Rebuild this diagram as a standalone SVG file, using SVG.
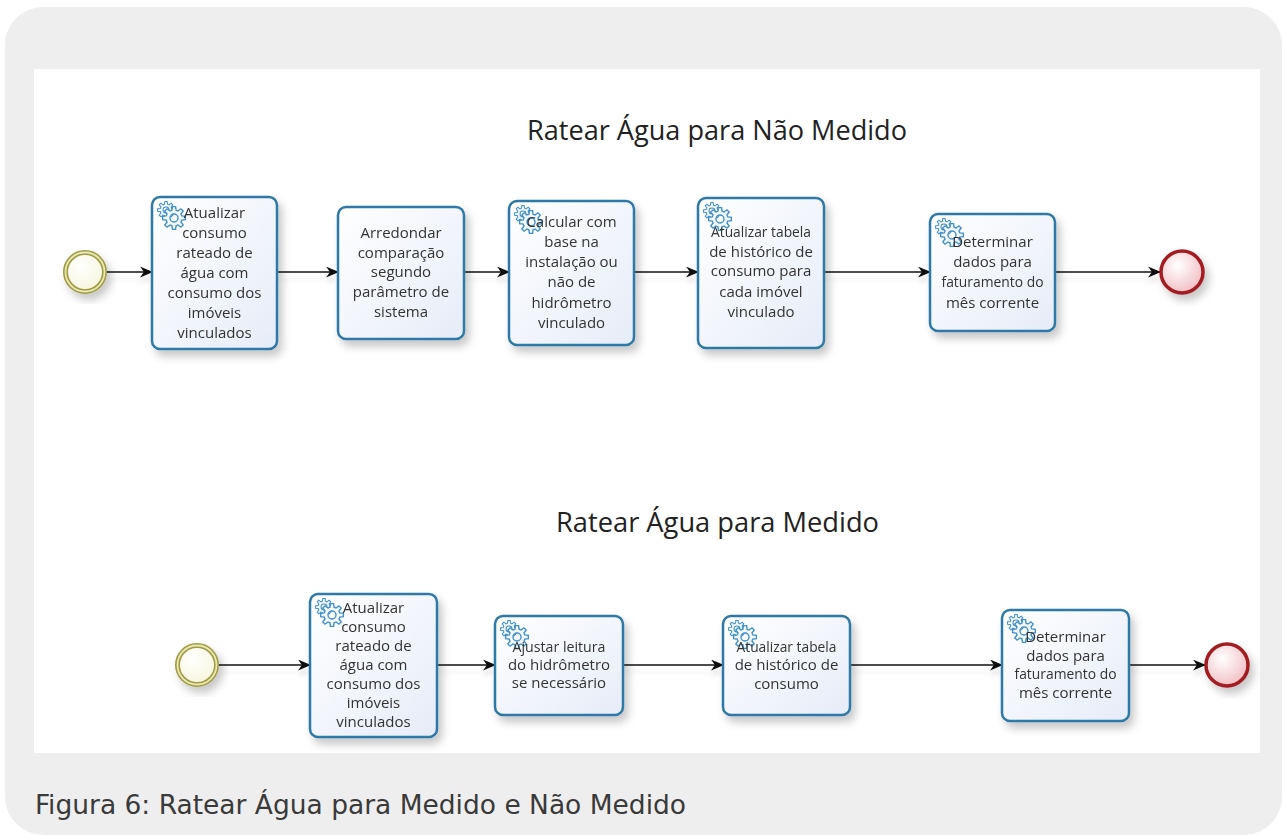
<svg xmlns="http://www.w3.org/2000/svg" xmlns:xlink="http://www.w3.org/1999/xlink" width="1282" height="835" viewBox="0 0 1282 835">
<style>
.task rect.box{fill:url(#taskGrad);stroke:#2f79a6;stroke-width:2.5}
.lbl{font-family:"Open Sans","DejaVu Sans",sans-serif;font-size:15px;fill:#333;text-anchor:middle}
.title{font-family:"Open Sans","DejaVu Sans",sans-serif;font-size:27px;fill:#222}
.gear{fill:#f2f7fd;stroke:#3f8fc8;stroke-width:1.2}
.conn line{stroke:#111;stroke-width:1.6;marker-end:url(#arrow)}
.cap{font-family:"DejaVu Sans","Liberation Sans",sans-serif;font-stretch:condensed;font-size:26px;fill:#3a3a3a}
</style>
<defs>
<linearGradient id="taskGrad" x1="0" y1="0" x2="1" y2="1">
<stop offset="0" stop-color="#ffffff"/>
<stop offset="1" stop-color="#e6ecf8"/>
</linearGradient>
<radialGradient id="endGrad" cx="0.4" cy="0.35" r="0.7">
<stop offset="0" stop-color="#ffffff"/>
<stop offset="1" stop-color="#f0bcc1"/>
</radialGradient>
<radialGradient id="startGrad" cx="0.4" cy="0.35" r="0.7">
<stop offset="0" stop-color="#ffffff"/>
<stop offset="1" stop-color="#f6f5dc"/>
</radialGradient>
<filter id="shadow" x="-20%" y="-20%" width="150%" height="150%">
<feDropShadow dx="4" dy="6" stdDeviation="4" flood-color="#000" flood-opacity="0.22"/>
</filter>
<filter id="lshadow" x="-5%" y="-100%" width="110%" height="400%">
<feDropShadow dx="0" dy="7" stdDeviation="2" flood-color="#000" flood-opacity="0.08"/>
</filter>
<marker id="arrow" viewBox="0 0 12 10" refX="11" refY="5" markerWidth="13" markerHeight="11" markerUnits="userSpaceOnUse" orient="auto">
<path d="M0,0 L12,5 L0,10 L3.5,5 Z" fill="#111"/>
</marker>
<path id="gearShape" d="M6.76,-1.81 L9.9,-1.39 9.9,1.39 6.76,1.81 6.06,3.5 7.99,6.02 6.02,7.99 3.5,6.06 1.81,6.76 1.39,9.9 -1.39,9.9 -1.81,6.76 -3.5,6.06 -6.02,7.99 -7.99,6.02 -6.06,3.5 -6.76,1.81 -9.9,1.39 -9.9,-1.39 -6.76,-1.81 -6.06,-3.5 -7.99,-6.02 -6.02,-7.99 -3.5,-6.06 -1.81,-6.76 -1.39,-9.9 1.39,-9.9 1.81,-6.76 3.5,-6.06 6.02,-7.99 7.99,-6.02 6.06,-3.5 Z M3.5,0 A3.5,3.5 0 1 0 -3.5,0 A3.5,3.5 0 1 0 3.5,0 Z"/>
<g id="gears">
<use xlink:href="#gearShape" href="#gearShape" class="gear" transform="translate(14,13) scale(0.85)"/>
<use xlink:href="#gearShape" href="#gearShape" class="gear" transform="translate(22,21) scale(1.15)"/>
</g>
</defs>

<rect x="5" y="7" width="1277" height="828" rx="38" fill="#eeeeee"/>
<rect x="34" y="69" width="1226" height="684" fill="#ffffff"/>

<text class="title" x="527" y="140" textLength="380" lengthAdjust="spacingAndGlyphs">Ratear Água para Não Medido</text>
<text class="title" x="556" y="532" textLength="323" lengthAdjust="spacingAndGlyphs">Ratear Água para Medido</text>

<g id="connectors" class="conn" filter="url(#lshadow)">
<line x1="106" y1="272" x2="152" y2="272"/>
<line x1="277" y1="272" x2="338" y2="272"/>
<line x1="464" y1="272" x2="509" y2="272"/>
<line x1="634" y1="272" x2="698" y2="272"/>
<line x1="824" y1="272" x2="930" y2="272"/>
<line x1="1055" y1="272" x2="1160" y2="272"/>
<line x1="218" y1="665" x2="310" y2="665"/>
<line x1="437" y1="665" x2="495" y2="665"/>
<line x1="623" y1="665" x2="723" y2="665"/>
<line x1="850" y1="665" x2="1002" y2="665"/>
<line x1="1129" y1="665" x2="1205" y2="665"/>
</g>

<g id="start1" filter="url(#shadow)">
<circle cx="85" cy="272" r="19.5" fill="url(#startGrad)" stroke="#a09c45" stroke-width="5"/>
<circle cx="85" cy="272" r="19.5" fill="none" stroke="#e9e7b2" stroke-width="1.8"/>
</g>

<g id="t1" class="task" filter="url(#shadow)">
<rect class="box" x="152" y="197" width="125" height="152" rx="8"/>
<use xlink:href="#gears" href="#gears" transform="translate(152,197)"/>
<text class="lbl"><tspan x="214.5" y="218">Atualizar</tspan><tspan x="214.5" y="238">consumo</tspan><tspan x="214.5" y="258">rateado de</tspan><tspan x="214.5" y="278">água com</tspan><tspan x="214.5" y="298">consumo dos</tspan><tspan x="214.5" y="318">imóveis</tspan><tspan x="214.5" y="338">vinculados</tspan></text>
</g>

<g id="t2" class="task" filter="url(#shadow)">
<rect class="box" x="338" y="207" width="126" height="132" rx="8"/>
<text class="lbl"><tspan x="401" y="238">Arredondar</tspan><tspan x="401" y="258">comparação</tspan><tspan x="401" y="277">segundo</tspan><tspan x="401" y="297">parâmetro de</tspan><tspan x="401" y="317">sistema</tspan></text>
</g>

<g id="t3" class="task" filter="url(#shadow)">
<rect class="box" x="509" y="201" width="125" height="144" rx="8"/>
<use xlink:href="#gears" href="#gears" transform="translate(509,201)"/>
<text class="lbl"><tspan x="571.5" y="227">Calcular com</tspan><tspan x="571.5" y="247">base na</tspan><tspan x="571.5" y="267">instalação ou</tspan><tspan x="571.5" y="287">não de</tspan><tspan x="571.5" y="308">hidrômetro</tspan><tspan x="571.5" y="328">vinculado</tspan></text>
</g>

<g id="t4" class="task" filter="url(#shadow)">
<rect class="box" x="698" y="198" width="126" height="150" rx="8"/>
<use xlink:href="#gears" href="#gears" transform="translate(698,198)"/>
<text class="lbl"><tspan x="761" y="237" textLength="100" lengthAdjust="spacingAndGlyphs">Atualizar tabela</tspan><tspan x="761" y="257">de histórico de</tspan><tspan x="761" y="276">consumo para</tspan><tspan x="761" y="297">cada imóvel</tspan><tspan x="761" y="317">vinculado</tspan></text>
</g>

<g id="t5" class="task" filter="url(#shadow)">
<rect class="box" x="930" y="214" width="125" height="117" rx="8"/>
<use xlink:href="#gears" href="#gears" transform="translate(930,214)"/>
<text class="lbl"><tspan x="992.5" y="247">Determinar</tspan><tspan x="992.5" y="267">dados para</tspan><tspan x="992.5" y="287" textLength="102" lengthAdjust="spacingAndGlyphs">faturamento do</tspan><tspan x="992.5" y="308">mês corrente</tspan></text>
</g>

<g id="end1" filter="url(#shadow)">
<circle cx="1182" cy="272" r="21" fill="url(#endGrad)" stroke="#a31d24" stroke-width="3.5"/>
</g>

<g id="start2" filter="url(#shadow)">
<circle cx="197" cy="665" r="19.5" fill="url(#startGrad)" stroke="#a09c45" stroke-width="5"/>
<circle cx="197" cy="665" r="19.5" fill="none" stroke="#e9e7b2" stroke-width="1.8"/>
</g>

<g id="b1" class="task" filter="url(#shadow)">
<rect class="box" x="310" y="594" width="127" height="143" rx="8"/>
<use xlink:href="#gears" href="#gears" transform="translate(310,594)"/>
<text class="lbl"><tspan x="373.5" y="613">Atualizar</tspan><tspan x="373.5" y="632">consumo</tspan><tspan x="373.5" y="651">rateado de</tspan><tspan x="373.5" y="670">água com</tspan><tspan x="373.5" y="689">consumo dos</tspan><tspan x="373.5" y="708">imóveis</tspan><tspan x="373.5" y="727">vinculados</tspan></text>
</g>

<g id="b2" class="task" filter="url(#shadow)">
<rect class="box" x="495" y="616" width="128" height="99" rx="8"/>
<use xlink:href="#gears" href="#gears" transform="translate(495,616)"/>
<text class="lbl"><tspan x="559" y="652" textLength="93" lengthAdjust="spacingAndGlyphs">Ajustar leitura</tspan><tspan x="559" y="670">do hidrômetro</tspan><tspan x="559" y="688">se necessário</tspan></text>
</g>

<g id="b3" class="task" filter="url(#shadow)">
<rect class="box" x="723" y="616" width="127" height="99" rx="8"/>
<use xlink:href="#gears" href="#gears" transform="translate(723,616)"/>
<text class="lbl"><tspan x="786.5" y="652" textLength="100" lengthAdjust="spacingAndGlyphs">Atualizar tabela</tspan><tspan x="786.5" y="670">de histórico de</tspan><tspan x="786.5" y="689">consumo</tspan></text>
</g>

<g id="b4" class="task" filter="url(#shadow)">
<rect class="box" x="1002" y="610" width="127" height="111" rx="8"/>
<use xlink:href="#gears" href="#gears" transform="translate(1002,610)"/>
<text class="lbl"><tspan x="1065.5" y="642">Determinar</tspan><tspan x="1065.5" y="661">dados para</tspan><tspan x="1065.5" y="679" textLength="102" lengthAdjust="spacingAndGlyphs">faturamento do</tspan><tspan x="1065.5" y="698">mês corrente</tspan></text>
</g>

<g id="end2" filter="url(#shadow)">
<circle cx="1227" cy="665" r="21" fill="url(#endGrad)" stroke="#a31d24" stroke-width="3.5"/>
</g>

<text class="cap" x="35" y="814" textLength="651" lengthAdjust="spacingAndGlyphs">Figura 6: Ratear Água para Medido e Não Medido</text>
</svg>
